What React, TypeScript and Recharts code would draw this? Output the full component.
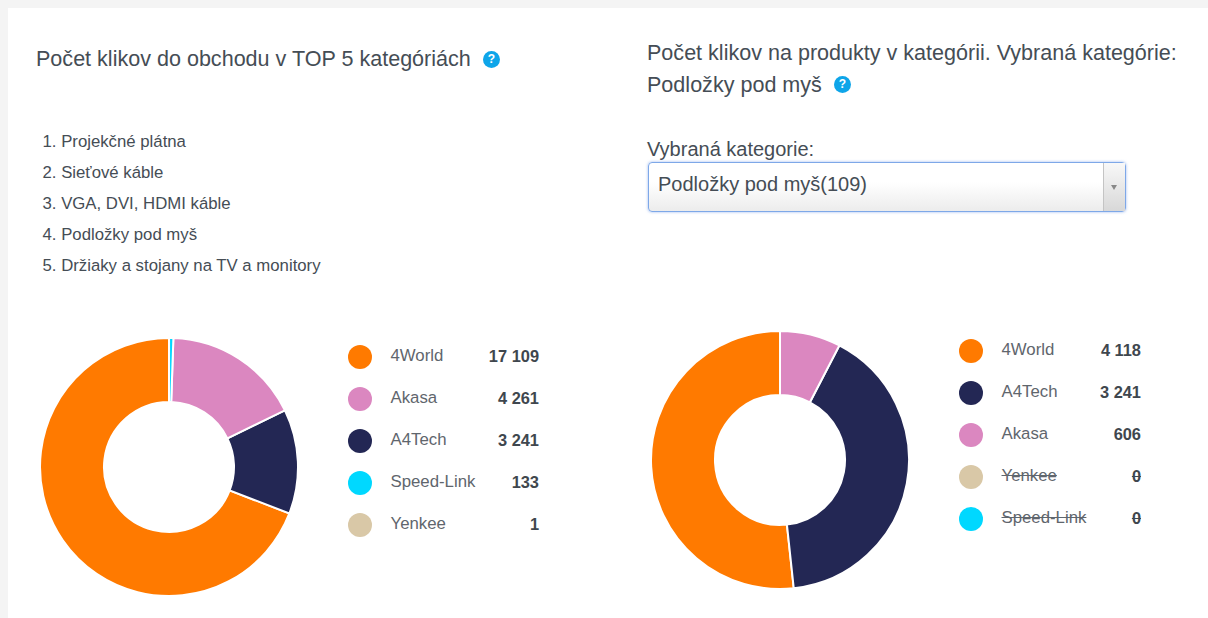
import { PieChart, Pie, Cell } from 'recharts'

const C = { text: '#454d55', legend: '#5f666d', value: '#3f474e', help: '#0ea5e9' }
const FONT = '"Liberation Sans", Arial, sans-serif'

const brandColors: Record<string, string> = {
  '4World': '#ff7a00',
  Akasa: '#db87c0',
  A4Tech: '#232754',
  'Speed-Link': '#00d8ff',
  Yenkee: '#d9c8a7',
}

const topCategories = ['Projekčné plátna', 'Sieťové káble', 'VGA, DVI, HDMI káble', 'Podložky pod myš', 'Držiaky a stojany na TV a monitory']

const leftBrands = ['4World', 'Akasa', 'A4Tech', 'Speed-Link', 'Yenkee']
const leftValues = [17109, 4261, 3241, 133, 1]
// drawn counter clockwise from the top, not in legend order
const leftPieOrder = ['4World', 'A4Tech', 'Akasa', 'Speed-Link', 'Yenkee']

const rightBrands = ['4World', 'A4Tech', 'Akasa', 'Yenkee', 'Speed-Link']
const rightValues = [4118, 3241, 606, 0, 0]

const fmt = (n: number) => String(n).replace(/\B(?=(\d{3})+$)/g, ' ')

function Help({ x, y }: { x: number; y: number }) {
  return (
    <div style={{
      position: 'absolute', left: x, top: y, width: 17, height: 17, borderRadius: '50%', background: C.help,
      color: '#fff', fontSize: 12, fontWeight: 700, lineHeight: '17px', textAlign: 'center',
    }}>?</div>
  )
}

function Label({ x, y, size, color, children }: { x: number; y: number; size: number; color?: string; children: React.ReactNode }) {
  return (
    <div style={{ position: 'absolute', left: x, top: y, fontSize: size, lineHeight: '24px', color: color ?? C.text, whiteSpace: 'nowrap' }}>
      {children}
    </div>
  )
}

function Donut({ x, y, rows }: { x: number; y: number; rows: { name: string; value: number }[] }) {
  return (
    <div style={{ position: 'absolute', left: x, top: y }}>
      <PieChart width={270} height={270} margin={{ top: 0, right: 0, bottom: 0, left: 0 }}>
        <Pie data={rows} dataKey="value" nameKey="name" cx={135} cy={135} innerRadius={65} outerRadius={129}
          startAngle={90} endAngle={450} stroke="#fff" strokeWidth={2} isAnimationActive={false}>
          {rows.map(r => <Cell key={r.name} fill={brandColors[r.name]} />)}
        </Pie>
      </PieChart>
    </div>
  )
}

function BrandLegend({ x, y, valueRight, brands, values }: { x: number; y: number; valueRight: number; brands: string[]; values: number[] }) {
  return (
    <>
      {brands.map((b, i) => {
        const top = y + i * 42
        const off = values[i] === 0
        return (
          <div key={b}>
            <div style={{ position: 'absolute', left: x, top: top - 12, width: 24, height: 24, borderRadius: '50%', background: brandColors[b] }} />
            <div style={{
              position: 'absolute', left: x + 42.5, top: top - 13, lineHeight: '24px', fontSize: 16.8, color: C.legend,
              textDecoration: off ? 'line-through' : 'none', whiteSpace: 'nowrap',
            }}>{b}</div>
            <div style={{
              position: 'absolute', left: valueRight - 80, width: 80, textAlign: 'right', top: top - 13, lineHeight: '24px', fontSize: 16.4,
              fontWeight: 700, color: C.value, textDecoration: off ? 'line-through' : 'none', whiteSpace: 'pre',
            }}>{fmt(values[i])}</div>
          </div>
        )
      })}
    </>
  )
}

export default function App() {
  const leftRows = leftPieOrder.map(name => ({ name, value: leftValues[leftBrands.indexOf(name)] }))
  const rightRows = rightBrands.map((name, i) => ({ name, value: rightValues[i] }))
  return (
    <div style={{ position: 'fixed', left: 0, top: 0, width: 1208, height: 618, background: '#f4f4f4', overflow: 'hidden', fontFamily: FONT }}>
      <div style={{ position: 'absolute', left: 8, top: 8, width: 1200, height: 610, background: '#fff' }} />

      <Label x={36} y={47} size={21.55}>Počet klikov do obchodu v TOP 5 kategóriách</Label>
      <Help x={483} y={51} />

      {topCategories.map((c, i) => (
        <Label key={c} x={42.5} y={129.5 + i * 31} size={16.75}>{i + 1}. {c}</Label>
      ))}

      <Donut x={33.5} y={331.5} rows={leftRows} />
      <BrandLegend x={348} y={357} valueRight={539} brands={leftBrands} values={leftValues} />

      <Label x={647} y={41} size={21.55}>Počet klikov na produkty v kategórii. Vybraná kategórie:</Label>
      <Label x={647} y={73} size={21.55}>Podložky pod myš</Label>
      <Help x={834} y={76} />

      <Label x={647} y={137} size={20}>Vybraná kategorie:</Label>
      <div style={{
        position: 'absolute', left: 648, top: 162, width: 478, height: 50, boxSizing: 'border-box', border: '1px solid #7ea8e8',
        borderRadius: 4, background: 'linear-gradient(#ffffff, #ffffff 40%, #ececec)', boxShadow: '0 0 3px rgba(90,140,230,.6)',
      }}>
        <div style={{ position: 'absolute', left: 9, top: 9, lineHeight: '24px', fontSize: 20, color: C.text }}>Podložky pod myš(109)</div>
        <div style={{ position: 'absolute', right: 0, top: 0, width: 21, height: 48, borderLeft: '1px solid #c4c4c4', background: 'linear-gradient(#f8f8f8, #d8d8d8)' }} />
        <div style={{
          position: 'absolute', right: 8, top: 22, width: 0, height: 0,
          borderLeft: '3px solid transparent', borderRight: '3px solid transparent', borderTop: '5px solid #888',
        }} />
      </div>

      <Donut x={644.5} y={325} rows={rightRows} />
      <BrandLegend x={959} y={351} valueRight={1141} brands={rightBrands} values={rightValues} />
    </div>
  )
}
